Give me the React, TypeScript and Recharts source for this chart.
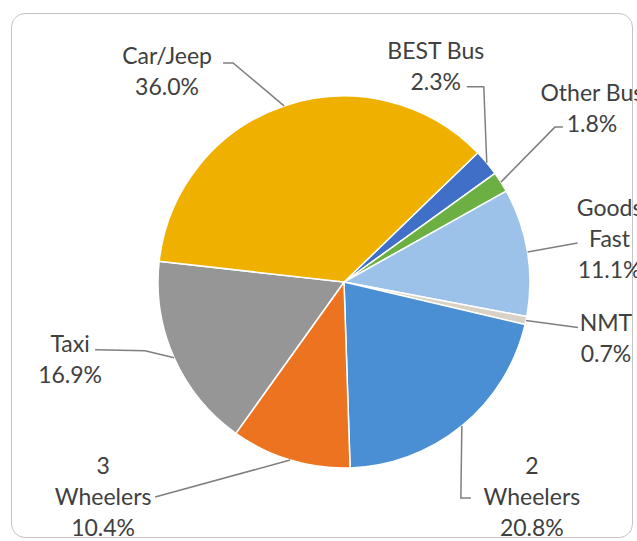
import { Cell, Pie, PieChart } from 'recharts'

const categories = ['BEST Bus', 'Other Bus', 'Goods Fast', 'NMT', '2 Wheelers', '3 Wheelers', 'Taxi', 'Car/Jeep']
const shares = [2.3, 1.8, 11.1, 0.7, 20.8, 10.4, 16.9, 36.0]
const colors = ['#3F6FC6', '#6CB043', '#9DC2EA', '#D8D2C6', '#4A8ED3', '#EC7420', '#969696', '#F0B000']

const data = categories.map((name, i) => ({ name, value: shares[i] }))

// label placement relative to the slice's outer edge point (leader elbows, text block centre)
const labelLayout = [
  { path: [[-3, -76], [-20, -76]], tx: -51, ty: -113, wrap: false },
  { path: [[54, -55], [62, -55]], tx: 91, ty: -90, wrap: false },
  { path: [[50, -9]], tx: 82, ty: -45, wrap: true },
  { path: [[52, 7]], tx: 80, ty: 1, wrap: false },
  { path: [[-1, 72], [9, 72]], tx: 70, ty: 39, wrap: true },
  { path: [[-135, 37]], tx: -187, ty: 5, wrap: true },
  { path: [[-29, -7], [-79, -8]], tx: -104, ty: -15, wrap: false },
  { path: [[-51, -43], [-61, -43]], tx: -117, ty: -51, wrap: false },
]

const RAD = Math.PI / 180
const FONT = 'Lato, "Open Sans", sans-serif'

function renderLabel(props: any) {
  const { cx, cy, midAngle, outerRadius, index, name, value } = props
  const layout = labelLayout[index]
  const ex = cx + outerRadius * Math.cos(-midAngle * RAD)
  const ey = cy + outerRadius * Math.sin(-midAngle * RAD)
  const pts = [[ex, ey], ...layout.path.map(([dx, dy]) => [ex + dx, ey + dy])]
  const d = pts.map((p, i) => `${i ? 'L' : 'M'}${p[0]},${p[1]}`).join(' ')
  const nameLines = layout.wrap ? [name.slice(0, name.indexOf(' ')), name.slice(name.indexOf(' ') + 1)] : [name]
  const lines = [...nameLines, `${value.toFixed(1)}%`]
  return (
    <g key={`lbl-${index}`}>
      <path d={d} stroke="#7f7f7f" strokeWidth={1.5} fill="none" />
      {lines.map((t, i) => (
        <text
          key={i}
          x={ex + layout.tx}
          y={ey + layout.ty + i * 31}
          textAnchor="middle"
          dominantBaseline="central"
          fill="#404040"
          fontSize={23}
          fontFamily={FONT}
        >
          {t}
        </text>
      ))}
    </g>
  )
}

export default function App() {
  return (
    <div style={{ position: 'absolute', left: 0, top: 0, width: 637, height: 541, background: '#fff' }}>
      <div
        style={{
          position: 'absolute',
          left: 11,
          top: 13,
          width: 620,
          height: 523,
          border: '1.5px solid #c4c4c4',
          borderRadius: 14,
        }}
      />
      <div style={{ position: 'absolute', left: 0, top: 0 }}>
        <PieChart width={637} height={541}>
          <Pie
            data={data}
            dataKey="value"
            nameKey="name"
            cx={339}
            cy={277}
            outerRadius={186}
            startAngle={44}
            endAngle={-316}
            stroke="#ffffff"
            strokeWidth={1.5}
            label={renderLabel}
            labelLine={false}
            isAnimationActive={false}
          >
            {data.map((d, i) => (
              <Cell key={d.name} fill={colors[i]} />
            ))}
          </Pie>
        </PieChart>
      </div>
    </div>
  )
}
